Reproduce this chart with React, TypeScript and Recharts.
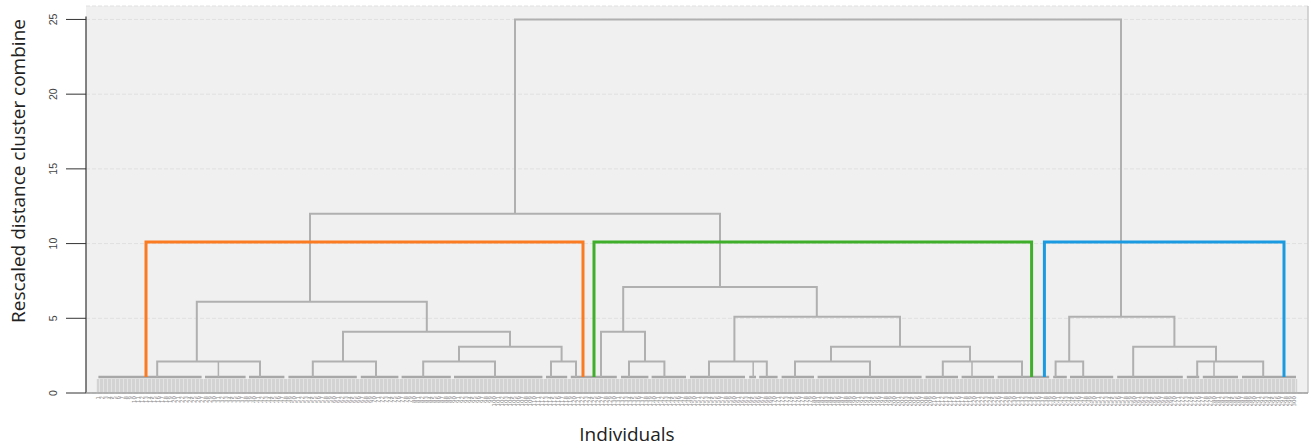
import { CartesianGrid, Line, LineChart, ReferenceArea, ReferenceLine, XAxis, YAxis } from 'recharts'

// Dendrogram links: [left x, right x, merge height, left child height, right child height]
// x is leaf order position (0..299), heights are rescaled distance
const LEAF = 1.07

const topLinks: number[][] = [
  [104.25, 255.75, 25, 12, 5.1],
  [53, 155.5, 12, 6.1, 7.1],
]

const orangeLinks: number[][] = [
  [24.7, 82.2, 6.1, 2.1, 4.1],
  [14.8, 40.5, 2.1, LEAF, LEAF],
  [61.25, 103, 4.1, 2.1, 3.1],
  [53.7, 69.5, 2.1, LEAF, LEAF],
  [90.25, 115.9, 3.1, 2.1, 2.1],
  [81.3, 99.25, 2.1, LEAF, LEAF],
  [113.25, 119.5, 2.1, LEAF, LEAF],
]

const greenLinks: number[][] = [
  [131.3, 179.7, 7.1, 4.1, 5.1],
  [125.75, 136.75, 4.1, LEAF, 2.1],
  [132.75, 141.6, 2.1, LEAF, LEAF],
  [159.1, 200.5, 5.1, 2.1, 3.1],
  [152.75, 167.2, 2.1, LEAF, LEAF],
  [183.25, 218, 3.1, 2.1, 2.1],
  [174.25, 193, 2.1, LEAF, LEAF],
  [211.2, 231, 2.1, LEAF, LEAF],
]

const blueLinks: number[][] = [
  [242.8, 269.1, 5.1, 2.1, 3.1],
  [239.4, 246.3, 2.1, LEAF, LEAF],
  [258.8, 279.5, 3.1, LEAF, 2.1],
  [274.8, 291.3, 2.1, LEAF, LEAF],
]

// three-way merges: extra middle drop [x, from height]
const middleDrops: number[][] = [
  [30.1, 2.1],
  [163.8, 2.1],
  [218.5, 2.1],
  [279, 2.1],
]

// cut brackets at distance 10: [left, right, height]
const clusterBrackets: { name: string; span: number[]; color: string }[] = [
  { name: 'Cluster 1', span: [12, 121.25, 10.1], color: '#fb7b22' },
  { name: 'Cluster 2', span: [124, 233.4, 10.1], color: '#3fae2a' },
  { name: 'Cluster 3', span: [236.6, 296.5, 10.1], color: '#1a9ae0' },
]

// lowest-level merge bars [start, end]
const leafBars: number[][] = [
  [0.1, 25.9], [26.75, 36.9], [37.75, 46.6], [47.6, 64.7], [65.7, 75.1],
  [75.9, 88.2], [89, 111.1], [112, 117.3], [118.2, 129.7], [130.75, 137.6],
  [138.4, 147], [148, 161.75], [162.8, 164.5], [165.3, 169.9], [170.9, 179],
  [179.9, 205.9], [206.9, 215], [215.9, 224], [224.9, 237.8], [238.8, 242.2],
  [243, 253.8], [254.8, 271.2], [272.2, 275.3], [276.2, 285], [286, 299.5],
]

const yTicks = [0, 5, 10, 15, 20, 25]
const leafTicks = Array.from({ length: 300 }, (_, i) => i)

function uShape(link: number[]) {
  const [l, r, h, lb, rb] = link
  return [
    { x: l, y: lb },
    { x: l, y: h },
    { x: r, y: h },
    { x: r, y: rb },
  ]
}

const YTick = ({ x, y, payload }: any) => (
  <text
    x={x}
    y={y}
    transform={`rotate(-90 ${x} ${y})`}
    textAnchor="middle"
    fontSize={10.5}
    fill="#444"
    fontFamily="'Liberation Sans', Arial, sans-serif"
  >
    {payload.value}
  </text>
)

const LeafTick = (props: any) => {
  const tx = Number(props.x) + 1.8
  const ty = 396
  return (
    <text
      x={tx}
      y={ty}
      transform={`rotate(-90 ${tx} ${ty})`}
      textAnchor="end"
      fontSize={5.5}
      fill="#8a8a8a"
      fontFamily="'DejaVu Sans', sans-serif"
    >
      {props.payload.value + 1}
    </text>
  )
}

const GREY = '#b0b0b0'

export default function App() {
  const greyLinks = [...topLinks, ...orangeLinks, ...greenLinks, ...blueLinks]
  return (
    <div style={{ width: 1312, height: 448 }}>
      <style>{'body{margin:0}'}</style>
      <svg width={0} height={0} style={{ position: 'absolute' }}>
        <defs>
          <pattern id="leafStripes" width="4" height="12" patternUnits="userSpaceOnUse">
            <rect width="4" height="12" fill="#d3d3d3" />
            <rect x="3" width="1" height="12" fill="#e4e4e4" />
          </pattern>
        </defs>
      </svg>
      <LineChart width={1312} height={448} margin={{ top: 6, right: 4, bottom: 0, left: 0 }}>
        <CartesianGrid vertical={false} fill="#f0f0f0" stroke="#e0e0e0" strokeDasharray="4 2" />
        <XAxis
          type="number"
          dataKey="x"
          domain={[-3, 302.5]}
          ticks={leafTicks}
          interval={0}
          allowDataOverflow
          height={55}
          tickLine={false}
          axisLine={{ stroke: '#9c9c9c', strokeWidth: 1.5 }}
          tick={LeafTick}
          label={{
            content: () => (
              <text x={627} y={441} textAnchor="middle" fontSize={19} fill="#222" fontFamily="'Open Sans', sans-serif">
                Individuals
              </text>
            ),
          }}
        />
        <YAxis
          type="number"
          domain={[0, 25.9]}
          ticks={yTicks}
          width={86}
          axisLine={false}
          tickSize={20}
          tickMargin={9}
          tickLine={{ stroke: '#333' }}
          tick={YTick}
          label={{
            content: () => (
              <text
                x={25}
                y={171}
                transform="rotate(-90 25 171)"
                textAnchor="middle"
                fontSize={19}
                fill="#222"
                fontFamily="'Open Sans', sans-serif"
              >
                Rescaled distance cluster combine
              </text>
            ),
          }}
        />
        <ReferenceLine
          segment={[{ x: -3, y: 0 }, { x: -3, y: 25.2 }]}
          stroke="#333"
          strokeWidth={1.2}
          ifOverflow="visible"
        />
        <ReferenceLine x={302.5} stroke="#c8c8c8" strokeWidth={1.5} />
        <ReferenceArea x1={-0.3} x2={299.8} y1={0.07} y2={0.93} fill="url(#leafStripes)" fillOpacity={1} stroke="none" />
        {leafBars.map((b, i) => (
          <Line
            key={`leaf-${i}`}
            data={[{ x: b[0], y: LEAF }, { x: b[1], y: LEAF }]}
            dataKey="y"
            stroke="#a8a8a8"
            strokeWidth={2.5}
            dot={false}
            activeDot={false}
            isAnimationActive={false}
          />
        ))}
        {greyLinks.map((l, i) => (
          <Line
            key={`link-${i}`}
            data={uShape(l)}
            dataKey="y"
            stroke={GREY}
            strokeWidth={2}
            dot={false}
            activeDot={false}
            isAnimationActive={false}
          />
        ))}
        {middleDrops.map((d, i) => (
          <Line
            key={`drop-${i}`}
            data={[{ x: d[0], y: d[1] }, { x: d[0], y: LEAF }]}
            dataKey="y"
            stroke={GREY}
            strokeWidth={1.5}
            dot={false}
            activeDot={false}
            isAnimationActive={false}
          />
        ))}
        {clusterBrackets.map((c) => (
          <Line
            key={c.name}
            name={c.name}
            data={uShape([c.span[0], c.span[1], c.span[2], LEAF, LEAF])}
            dataKey="y"
            stroke={c.color}
            strokeWidth={3}
            dot={false}
            activeDot={false}
            isAnimationActive={false}
          />
        ))}
      </LineChart>
    </div>
  )
}
